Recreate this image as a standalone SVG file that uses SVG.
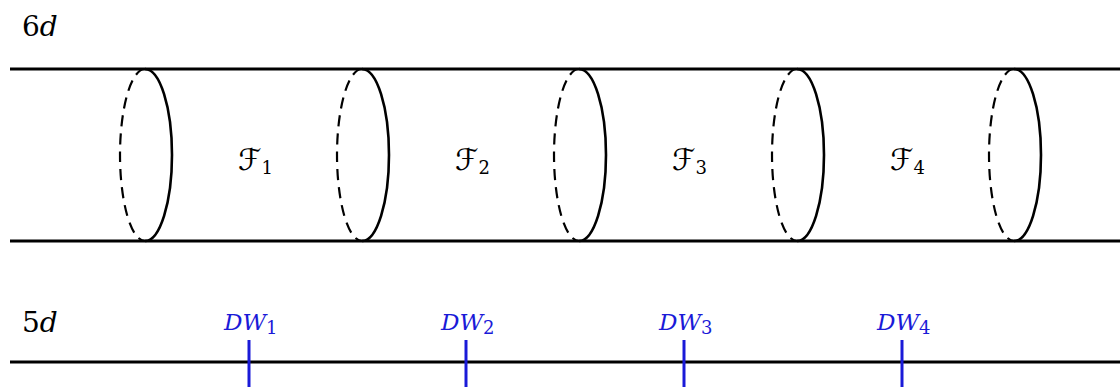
<svg xmlns="http://www.w3.org/2000/svg" width="1120" height="387" viewBox="0 0 1120 387">
<style>
.ln{stroke:#000;stroke-width:3;fill:none}
.solid{stroke:#000;stroke-width:2.6;fill:none}
.dash{stroke:#000;stroke-width:2.2;fill:none;stroke-dasharray:11 7}
.tick{stroke:#1a1ad8;stroke-width:3}
.t{font-family:"DejaVu Serif","Liberation Serif",serif;font-size:28px;fill:#000}
.f{font-family:"DejaVu Serif","DejaVu Sans",serif;font-size:30px;fill:#000}
.dw{font-family:"DejaVu Serif","Liberation Serif",serif;font-size:23px;fill:#1a1ad8;font-style:italic}
.sub{font-size:18px;font-style:normal}
</style>
<defs>
<g id="ring">
<path class="solid" d="M-1,69 A27 86 0 0 1 -1,241"/>
<path class="dash" d="M-1,69 A25 86 0 0 0 -1,241"/>
</g>
</defs>
<g id="labels">
<text class="t" x="22" y="36">6<tspan font-style="italic">d</tspan></text>
<text class="t" x="22" y="332">5<tspan font-style="italic">d</tspan></text>
</g>
<g id="connectors">
<line class="ln" x1="10" y1="69" x2="1120" y2="69"/>
<line class="ln" x1="10" y1="241" x2="1120" y2="241"/>
<line class="ln" x1="10" y1="362" x2="1120" y2="362"/>
</g>
<g id="ring1"><use href="#ring" x="146"/></g>
<g id="ring2"><use href="#ring" x="363"/></g>
<g id="ring3"><use href="#ring" x="580"/></g>
<g id="ring4"><use href="#ring" x="798"/></g>
<g id="ring5"><use href="#ring" x="1015"/></g>
<g id="F1"><text class="f" x="238" y="170">ℱ<tspan class="sub" dy="4">1</tspan></text></g>
<g id="F2"><text class="f" x="455" y="170">ℱ<tspan class="sub" dy="4">2</tspan></text></g>
<g id="F3"><text class="f" x="672" y="170">ℱ<tspan class="sub" dy="4">3</tspan></text></g>
<g id="F4"><text class="f" x="890" y="170">ℱ<tspan class="sub" dy="4">4</tspan></text></g>
<g id="DW1"><line class="tick" x1="249" y1="340" x2="249" y2="387"/><text class="dw" x="224" y="330">DW<tspan class="sub" dy="4">1</tspan></text></g>
<g id="DW2"><line class="tick" x1="466" y1="340" x2="466" y2="387"/><text class="dw" x="441" y="330">DW<tspan class="sub" dy="4">2</tspan></text></g>
<g id="DW3"><line class="tick" x1="684" y1="340" x2="684" y2="387"/><text class="dw" x="659" y="330">DW<tspan class="sub" dy="4">3</tspan></text></g>
<g id="DW4"><line class="tick" x1="902" y1="340" x2="902" y2="387"/><text class="dw" x="877" y="330">DW<tspan class="sub" dy="4">4</tspan></text></g>
</svg>
